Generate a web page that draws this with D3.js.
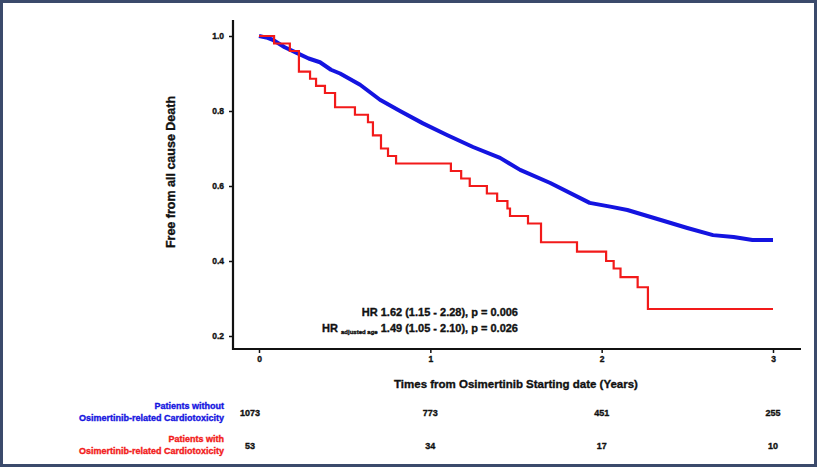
<!DOCTYPE html>
<html>
<head>
<meta charset="utf-8">
<script src="https://cdn.jsdelivr.net/npm/d3@7"></script>
<style>
  body { margin: 0; background: #fff; }
  svg { display: block; font-family: 'Liberation Sans', Arial, sans-serif; }
  text { font-weight: bold; stroke-width: 0.35px; paint-order: stroke; }
</style>
</head>
<body>
<div id="chart"></div>
<script>
// Kaplan-Meier curves (years, survival)
const redTimes = [0, 0.088, 0.18, 0.233, 0.298, 0.333, 0.385, 0.444, 0.56, 0.636, 0.665, 0.712, 0.753, 0.80,
    1.12, 1.18, 1.23, 1.33, 1.39, 1.45, 1.465, 1.57, 1.646, 1.856, 2.026, 2.07, 2.11, 2.21, 2.27, 3.0];
const redSurv = [1.0, 0.98, 0.96, 0.905, 0.886, 0.867, 0.848, 0.81, 0.79, 0.77, 0.735, 0.70, 0.68, 0.66,
    0.64, 0.62, 0.60, 0.58, 0.56, 0.54, 0.52, 0.50, 0.45, 0.425, 0.40, 0.38, 0.357, 0.33, 0.272, 0.272];

const blueTimes = [0, 0.05, 0.08, 0.15, 0.22, 0.29, 0.356, 0.42, 0.473, 0.59, 0.706, 0.823, 0.957, 1.097,
    1.249, 1.407, 1.524, 1.70, 1.93, 2.05, 2.15, 2.34, 2.5, 2.65, 2.77, 2.88, 3.0];
const blueSurv = [1.0, 0.995, 0.99, 0.97, 0.955, 0.94, 0.93, 0.91, 0.90, 0.87, 0.83, 0.80, 0.767, 0.736,
    0.704, 0.675, 0.643, 0.608, 0.555, 0.545, 0.536, 0.51, 0.488, 0.469, 0.464, 0.456, 0.456];

const xTicks = [0, 1, 2, 3];
const yTicks = [0.2, 0.4, 0.6, 0.8, 1.0];
const riskWithout = [1073, 773, 451, 255];
const riskWith = [53, 34, 17, 10];

const width = 819, height = 469;
const svg = d3.select('#chart').append('svg')
    .attr('width', width)
    .attr('height', height);

// outer frame
svg.append('rect')
    .attr('x', 1.5).attr('y', 1.5)
    .attr('width', 814).attr('height', 464)
    .attr('fill', '#fff')
    .attr('stroke', '#3b4a6b')
    .attr('stroke-width', 3);

const x = d3.scaleLinear().domain([0, 3]).range([259, 773]);
const y = d3.scaleLinear().domain([0.2, 1.0]).range([336, 36]);

// axes
const yAxis = svg.append('g')
    .attr('transform', 'translate(233,0)')
    .call(d3.axisLeft(y).tickValues(yTicks).tickFormat(d3.format('.1f')).tickSize(4).tickPadding(5));
const xAxis = svg.append('g')
    .attr('transform', 'translate(0,349)')
    .call(d3.axisBottom(x).tickValues(xTicks).tickFormat(d3.format('d')).tickSize(4).tickPadding(3));
[yAxis, xAxis].forEach(function (g) {
    g.select('.domain').remove();
    g.selectAll('.tick line').attr('stroke', '#111').attr('stroke-width', 1.5);
    g.selectAll('.tick text')
        .attr('fill', '#111')
        .attr('stroke', '#111')
        .style('font-size', '8.5px')
        .style('font-family', "'Liberation Sans', Arial, sans-serif")
        .style('font-weight', 'bold');
});
svg.append('line')
    .attr('x1', 233).attr('x2', 233).attr('y1', 20).attr('y2', 350)
    .attr('stroke', '#111').attr('stroke-width', 2.2);
svg.append('line')
    .attr('x1', 232).attr('x2', 801).attr('y1', 349).attr('y2', 349)
    .attr('stroke', '#111').attr('stroke-width', 2.2);

// axis titles
svg.append('text')
    .attr('transform', 'translate(175,172)rotate(-90)')
    .attr('text-anchor', 'middle')
    .style('font-size', '12.5px')
    .attr('fill', '#111').attr('stroke', '#111')
    .text('Free from all cause Death');
svg.append('text')
    .attr('x', 516).attr('y', 388)
    .attr('text-anchor', 'middle')
    .style('font-size', '11.5px')
    .attr('fill', '#111').attr('stroke', '#111')
    .text('Times from Osimertinib Starting date (Years)');

// curves
const blueLine = d3.line()
    .x(function (d, i) { return x(blueTimes[i]); })
    .y(function (d) { return y(d); });
svg.append('path')
    .datum(blueSurv)
    .attr('d', blueLine)
    .attr('fill', 'none')
    .attr('stroke', '#1414e0')
    .attr('stroke-width', 4)
    .attr('stroke-linejoin', 'round');

const redLine = d3.line()
    .x(function (d, i) { return x(redTimes[i]); })
    .y(function (d) { return y(d); })
    .curve(d3.curveStepAfter);
svg.append('path')
    .datum(redSurv)
    .attr('d', redLine)
    .attr('fill', 'none')
    .attr('stroke', '#f21a1a')
    .attr('stroke-width', 2.2);

// hazard ratio annotation
svg.append('text')
    .attr('x', 518).attr('y', 316)
    .attr('text-anchor', 'end')
    .style('font-size', '11px')
    .attr('fill', '#111').attr('stroke', '#111')
    .text('HR 1.62 (1.15 - 2.28), p = 0.006');
const hr2 = svg.append('text')
    .attr('x', 518).attr('y', 332)
    .attr('text-anchor', 'end')
    .style('font-size', '11px')
    .attr('fill', '#111').attr('stroke', '#111');
hr2.append('tspan').text('HR ');
hr2.append('tspan').style('font-size', '6px').attr('dy', 2).text('adjusted age');
hr2.append('tspan').attr('dy', -2).text(' 1.49 (1.05 - 2.10), p = 0.026');

// number at risk table
const groups = [
    { lines: ['Patients without', 'Osimertinib-related Cardiotoxicity'], color: '#1414e0', counts: riskWithout, y: 406 },
    { lines: ['Patients with', 'Osimertinib-related Cardiotoxicity'], color: '#f21a1a', counts: riskWith, y: 439 }
];
groups.forEach(function (g) {
    g.lines.forEach(function (line, i) {
        svg.append('text')
            .attr('x', 224).attr('y', g.y + i * 12 + 3)
            .attr('text-anchor', 'end')
            .style('font-size', '9px')
            .attr('fill', g.color).attr('stroke', g.color)
            .text(line);
    });
    svg.selectAll(null)
        .data(g.counts)
        .enter().append('text')
        .attr('x', function (d, i) { return i === 0 ? 250 : x(xTicks[i]); })
        .attr('y', g.y + 10)
        .attr('text-anchor', 'middle')
        .style('font-size', '9px')
        .attr('fill', '#111').attr('stroke', '#111')
        .text(function (d) { return d; });
});
</script>
</body>
</html>
